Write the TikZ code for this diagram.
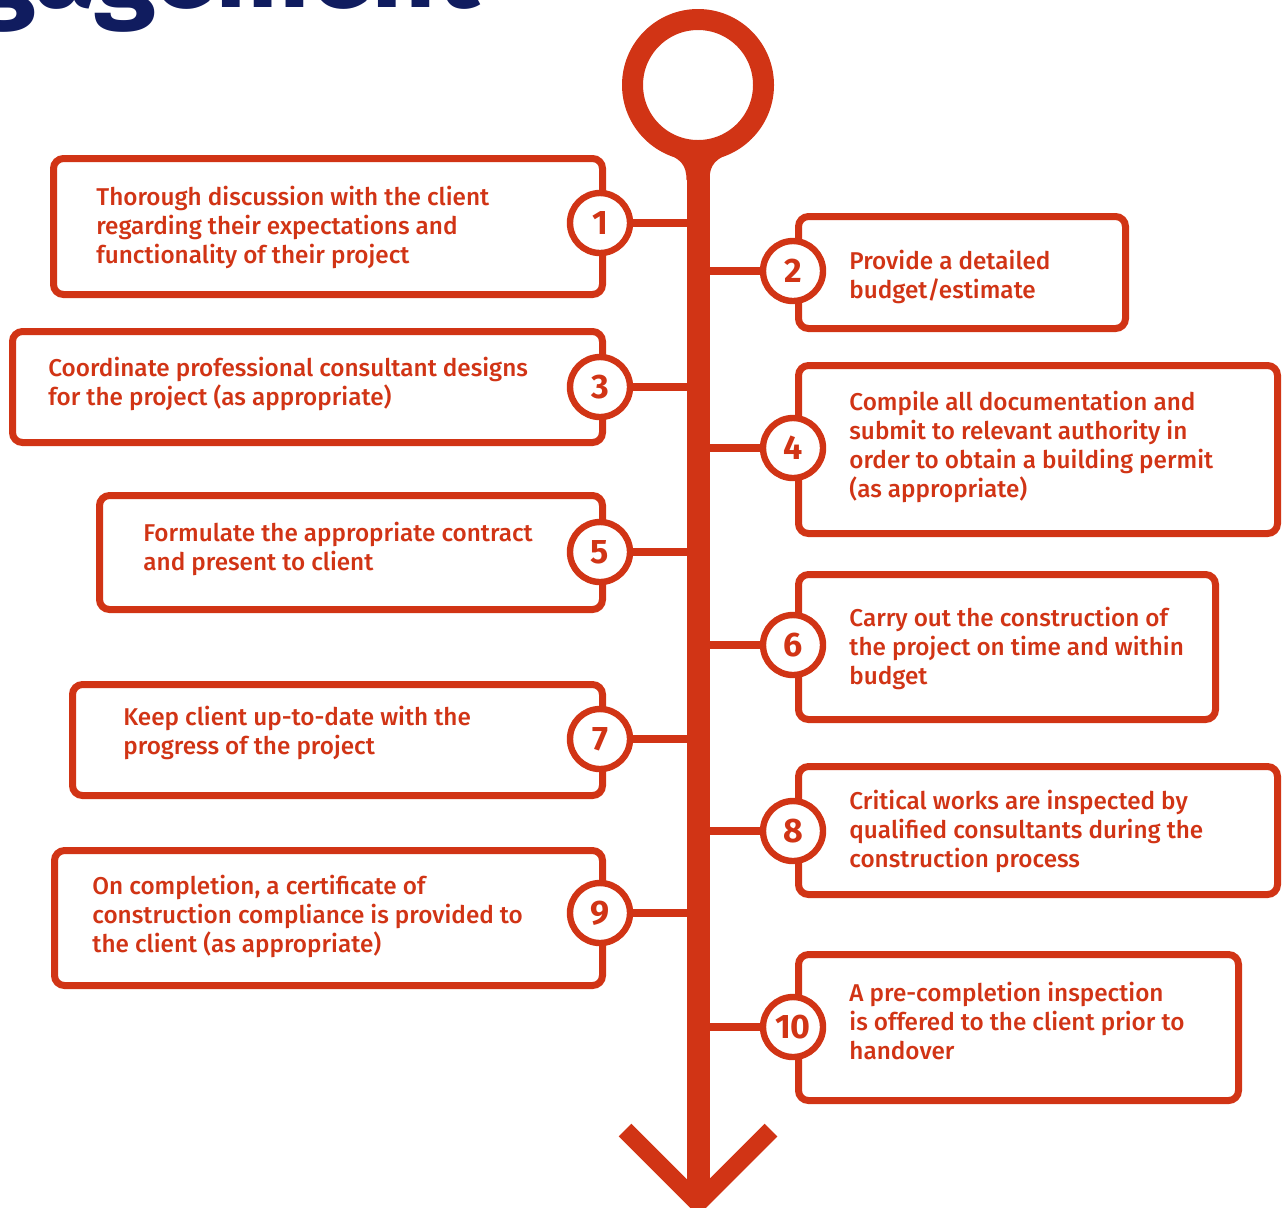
\documentclass[tikz,border=0pt]{standalone}
\usepackage{fontspec}
\setmainfont{Fira Sans}
\newfontfamily\chumuc{Fira Sans Medium}
\newfontfamily\chuto{Fira Sans Bold}
\definecolor{dndo}{HTML}{D13415}
\definecolor{dnxanhdam}{HTML}{101C5F}
\def\maunhan{dndo}
\def\maudam{dnxanhdam}
\usetikzlibrary{positioning,calc,fit}

\begin{document}
\begin{tikzpicture}[x=.5pt,y=-.5pt]
		\tikzstyle{boxstyle} = [draw=\maunhan,line width=3.5pt,rounded corners=5pt,fill=white,inner sep=0pt]
		\tikzstyle{numstyle} = [circle,draw=\maunhan,line width=3.2pt,fill=white,minimum size=30pt,inner sep=0pt,text=\maunhan,font=\chuto\fontsize{17}{17}\selectfont]
		\tikzstyle{textstyle} = [anchor=west,align=left,inner sep=0pt,text=\maunhan,font=\chumuc\fontsize{12.15}{14.5}\selectfont]
		\tikzstyle{linkstyle} = [draw=\maunhan,line width=4pt]
		\useasboundingbox (0,0) rectangle (1288,1207);
		% title, cut by the page
		\node[anchor=base east,inner sep=0pt,text=\maudam,font=\chuto\fontsize{56}{56}\selectfont] (title) at (480,7) {Engagement};
		% ring, stem and arrow head
		\node[circle,draw=\maunhan,line width=10.5pt,minimum size=65.5pt,inner sep=0pt] (ring) at (698,85) {};
		\coordinate (tip) at (698,1203);
		\draw[\maunhan,line width=11.5pt] (ring.south) -- (tip);
		\fill[\maunhan] (686.5,180) .. controls (686.5,164) and (680,159) .. (664,152) -- (732,152) .. controls (716,159) and (709.5,164) .. (709.5,180) -- cycle;
		\draw[\maunhan,line width=9pt,line join=miter] ($(tip)+(-73,-73)$) -- (tip) -- ($(tip)+(73,-73)$);
		% boxes
		\node[boxstyle,fit={(53.5,158.5) (602.5,294.5)}] (b1) {};
		\node[boxstyle,fit={(798.5,216.5) (1125.5,328.5)}] (b2) {};
		\node[boxstyle,fit={(12.5,331.5) (602.5,442.5)}] (b3) {};
		\node[boxstyle,fit={(798.5,365.5) (1277.5,533.5)}] (b4) {};
		\node[boxstyle,fit={(99.5,495.5) (602.5,609.5)}] (b5) {};
		\node[boxstyle,fit={(798.5,574.5) (1215.5,719.5)}] (b6) {};
		\node[boxstyle,fit={(72.5,684.5) (602.5,795.5)}] (b7) {};
		\node[boxstyle,fit={(798.5,766.5) (1277.5,894.5)}] (b8) {};
		\node[boxstyle,fit={(54.5,850.5) (602.5,985.5)}] (b9) {};
		\node[boxstyle,fit={(798.5,954.5) (1238.5,1100.5)}] (b10) {};
		% texts
		\node[textstyle] (t1) at (96,227) {Thorough discussion with the client\\regarding their expectations and\\functionality of their project};
		\node[textstyle] (t2) at (849,277) {Provide a detailed\\budget/estimate};
		\node[textstyle] (t3) at (48,384) {Coordinate professional consultant designs\\for the project (as appropriate)};
		\node[textstyle] (t4) at (849,447) {Compile all documentation and\\submit to relevant authority in\\order to obtain a building permit\\(as appropriate)};
		\node[textstyle] (t5) at (143,549) {Formulate the appropriate contract\\and present to client};
		\node[textstyle] (t6) at (849,648) {Carry out the construction of\\the project on time and within\\budget};
		\node[textstyle] (t7) at (123,733) {Keep client up-to-date with the\\progress of the project};
		\node[textstyle] (t8) at (849,831) {Critical works are inspected by\\qualified consultants during the\\construction process};
		\node[textstyle] (t9) at (92,916) {On completion, a certificate of\\construction compliance is provided to\\the client (as appropriate)};
		\node[textstyle] (t10) at (849,1021) {A pre-completion inspection\\is offered to the client prior to\\handover};
		% numbers
		\node[numstyle] (n1) at (600,223) {1};
		\node[numstyle] (n2) at (793,271) {2};
		\node[numstyle] (n3) at (600,387) {3};
		\node[numstyle] (n4) at (793,448) {4};
		\node[numstyle] (n5) at (600,552) {5};
		\node[numstyle] (n6) at (793,645) {6};
		\node[numstyle] (n7) at (600,739) {7};
		\node[numstyle] (n8) at (793,831) {8};
		\node[numstyle] (n9) at (600,913) {9};
		\node[numstyle] (n10) at (793,1027) {10};
		% links to the stem
		\draw[linkstyle] (n1.east) -- (n1.east -| tip);
		\draw[linkstyle] (n2.west) -- (n2.west -| tip);
		\draw[linkstyle] (n3.east) -- (n3.east -| tip);
		\draw[linkstyle] (n4.west) -- (n4.west -| tip);
		\draw[linkstyle] (n5.east) -- (n5.east -| tip);
		\draw[linkstyle] (n6.west) -- (n6.west -| tip);
		\draw[linkstyle] (n7.east) -- (n7.east -| tip);
		\draw[linkstyle] (n8.west) -- (n8.west -| tip);
		\draw[linkstyle] (n9.east) -- (n9.east -| tip);
		\draw[linkstyle] (n10.west) -- (n10.west -| tip);
\end{tikzpicture}
\end{document}
